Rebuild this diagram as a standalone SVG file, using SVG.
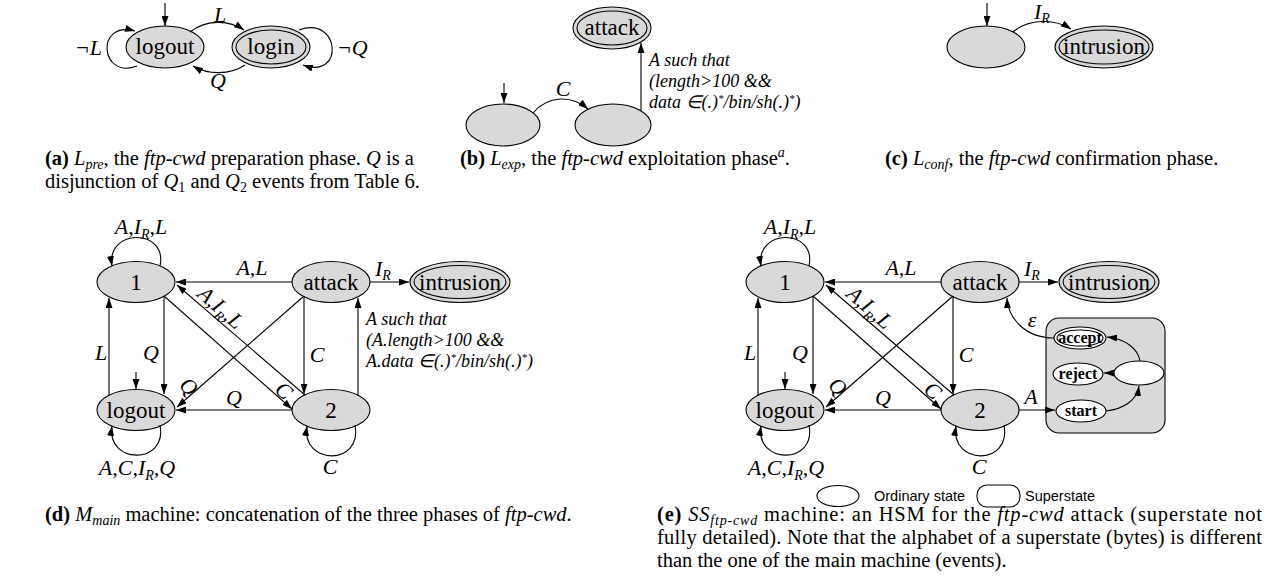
<svg xmlns="http://www.w3.org/2000/svg" width="1270" height="586" viewBox="0 0 1270 586">
<defs>
<marker id="ah" viewBox="0 0 10 7" refX="10" refY="3.5" markerWidth="10" markerHeight="7" orient="auto" markerUnits="userSpaceOnUse"><path d="M0,0 L10,3.5 L0,7 z" fill="#000"/></marker>
</defs>
<style>
.st{fill:#d9d9d9;stroke:#000;stroke-width:1.1}
.in{fill:none;stroke:#000;stroke-width:1.1}
.ws{fill:#fff;stroke:#000;stroke-width:1.1}
.e{fill:none;stroke:#000;stroke-width:1.1;marker-end:url(#ah)}
.nl{font-family:"Liberation Serif",serif;font-size:23px;text-anchor:middle;fill:#000}
.lb{font-family:"Liberation Serif",serif;font-size:22px;font-style:italic;fill:#000}
.m{text-anchor:middle}
.cd{font-family:"Liberation Serif",serif;font-size:18px;font-style:italic;fill:#000}
.cap{font-family:"Liberation Serif",serif;font-size:20.5px;fill:#000}
.b{font-weight:bold}
.i{font-style:italic}
.sub{font-size:14px}
.sup{font-size:11px}
.inner{font-family:"Liberation Serif",serif;font-size:16px;font-weight:bold;text-anchor:middle}
.leg{font-family:"Liberation Sans",sans-serif;font-size:14.5px;fill:#000}
</style>

<!-- (a) -->
<g id="a-logout"><ellipse class="st" cx="165" cy="47" rx="39" ry="21"/><text class="nl" x="165" y="54">logout</text></g>
<g id="a-login"><ellipse class="st" cx="271" cy="47" rx="39" ry="21"/><ellipse class="in" cx="271" cy="47" rx="35" ry="17"/><text class="nl" x="271" y="54">login</text></g>
<g id="a-edges">
<path class="e" d="M165,3 L165,26"/>
<path class="e" d="M190,32 C205,20 228,19 244,30"/>
<path class="e" d="M245,65 C230,75 208,75 193,66"/>
<path class="e" d="M137,66 C100,80 95,20 135,31"/>
<path class="e" d="M299,30 C340,15 345,80 303,65"/>
</g>
<g id="a-labels">
<text class="lb m" x="220" y="22">L</text>
<text class="lb m" x="218" y="88">Q</text>
<text class="lb" x="102" y="55" text-anchor="end">¬L</text>
<text class="lb" x="337" y="55">¬Q</text>
</g>

<!-- (b) -->
<g id="b-attack"><ellipse class="st" cx="612" cy="28" rx="39" ry="21"/><ellipse class="in" cx="612" cy="28" rx="35" ry="17"/><text class="nl" x="612" y="35">attack</text></g>
<g id="b-s0"><ellipse class="st" cx="503" cy="125" rx="37" ry="21"/></g>
<g id="b-s1"><ellipse class="st" cx="613" cy="125" rx="38" ry="21"/></g>
<g id="b-edges">
<path class="e" d="M504,83 L504,103"/>
<path class="e" d="M533,113 C548,95 572,95 588,109"/>
<path class="e" d="M641,111 L641,43"/>
</g>
<g id="b-labels">
<text class="lb m" x="563" y="96">C</text>
<text class="cd" x="649" y="66">A such that</text>
<text class="cd" x="649" y="87">(length&gt;100 &amp;&amp;</text>
<text class="cd" x="649" y="108">data ∈(.)<tspan class="sup" dy="-6">*</tspan><tspan dy="6">/bin/sh(.)</tspan><tspan class="sup" dy="-6">*</tspan><tspan dy="6">)</tspan></text>
</g>

<!-- (c) -->
<g id="c-s0"><ellipse class="st" cx="986" cy="47" rx="39" ry="21"/></g>
<g id="c-intrusion"><ellipse class="st" cx="1104" cy="47" rx="49" ry="21"/><ellipse class="in" cx="1104" cy="47" rx="45" ry="17"/><text class="nl" x="1104" y="54">intrusion</text></g>
<g id="c-edges">
<path class="e" d="M987,3 L987,26"/>
<path class="e" d="M1013,32 C1028,19 1054,18 1071,29"/>
</g>
<g id="c-labels">
<text class="lb" x="1034" y="19">I<tspan class="sub" dy="4">R</tspan></text>
</g>

<!-- captions top -->
<text class="cap" x="45" y="165"><tspan class="b">(a)</tspan> <tspan class="i">L</tspan><tspan class="i sub" dy="4">pre</tspan><tspan dy="-4">, the </tspan><tspan class="i">ftp-cwd</tspan> preparation phase.  <tspan class="i">Q</tspan> is a</text>
<text class="cap" x="45" y="188">disjunction of <tspan class="i">Q</tspan><tspan class="sub" dy="4">1</tspan><tspan dy="-4"> and </tspan><tspan class="i">Q</tspan><tspan class="sub" dy="4">2</tspan><tspan dy="-4"> events from Table 6.</tspan></text>
<text class="cap" x="460" y="165"><tspan class="b">(b)</tspan> <tspan class="i">L</tspan><tspan class="i sub" dy="4">exp</tspan><tspan dy="-4">, the </tspan><tspan class="i">ftp-cwd</tspan> exploitation phase<tspan class="i sub" dy="-8">a</tspan><tspan dy="8">.</tspan></text>
<text class="cap" x="885" y="165"><tspan class="b">(c)</tspan> <tspan class="i">L</tspan><tspan class="i sub" dy="4">conf</tspan><tspan dy="-4">, the </tspan><tspan class="i">ftp-cwd</tspan> confirmation phase.</text>

<!-- (d) -->
<g id="d-n1"><ellipse class="st" cx="136" cy="282" rx="39" ry="20.5"/><text class="nl" x="136" y="290">1</text></g>
<g id="d-logout"><ellipse class="st" cx="136" cy="410" rx="39" ry="20.5"/><text class="nl" x="136" y="418">logout</text></g>
<g id="d-attack"><ellipse class="st" cx="331" cy="282" rx="39" ry="20.5"/><text class="nl" x="331" y="290">attack</text></g>
<g id="d-n2"><ellipse class="st" cx="331" cy="410" rx="39" ry="20.5"/><text class="nl" x="331" y="418">2</text></g>
<g id="d-intrusion"><ellipse class="st" cx="460" cy="282" rx="50" ry="20.5"/><ellipse class="in" cx="460" cy="282" rx="46" ry="16.5"/><text class="nl" x="460" y="290">intrusion</text></g>
<g id="d-edges">
<path class="e" d="M160,266 C168,228 106,228 112,266"/>
<path class="e" d="M160,425 C168,465 106,465 112,426"/>
<path class="e" d="M136,372 L136,389"/>
<path class="e" d="M164,296 L164,394"/>
<path class="e" d="M109,395 L109,298"/>
<path class="e" d="M292,282 L176,282"/>
<path class="e" d="M305,395 L177,285"/>
<path class="e" d="M164,296 L292,409"/>
<path class="e" d="M304,296 L177,407"/>
<path class="e" d="M304,296 L304,394"/>
<path class="e" d="M358,395 L358,298"/>
<path class="e" d="M292,410 L176,410"/>
<path class="e" d="M355,425 C363,466 301,466 307,426"/>
<path class="e" d="M370,282 L409,282"/>
</g>
<g id="d-labels">
<text class="lb m" x="141" y="234">A,I<tspan class="sub" dy="5">R</tspan><tspan dy="-5">,L</tspan></text>
<text class="lb m" x="137" y="475">A,C,I<tspan class="sub" dy="5">R</tspan><tspan dy="-5">,Q</tspan></text>
<text class="lb m" x="101" y="360">L</text>
<text class="lb m" x="151" y="360">Q</text>
<text class="lb m" x="252" y="275">A,L</text>
<text class="lb m" x="216" y="313" transform="rotate(41 216 313)">A,I<tspan class="sub" dy="5">R</tspan><tspan dy="-5">,L</tspan></text>
<text class="lb m" x="279" y="396" transform="rotate(41 279 396)">C</text>
<text class="lb m" x="184" y="392" transform="rotate(40 184 392)">Q</text>
<text class="lb m" x="234" y="405">Q</text>
<text class="lb m" x="317" y="362">C</text>
<text class="lb m" x="330" y="474">C</text>
<text class="lb" x="375" y="276">I<tspan class="sub" dy="4">R</tspan></text>
<text class="cd" x="366" y="325">A such that</text>
<text class="cd" x="366" y="346">(A.length&gt;100 &amp;&amp;</text>
<text class="cd" x="366" y="367">A.data ∈(.)<tspan class="sup" dy="-6">*</tspan><tspan dy="6">/bin/sh(.)</tspan><tspan class="sup" dy="-6">*</tspan><tspan dy="6">)</tspan></text>
</g>

<!-- (e) -->
<g id="e-n1"><ellipse class="st" cx="785" cy="282" rx="39" ry="20.5"/><text class="nl" x="785" y="290">1</text></g>
<g id="e-logout"><ellipse class="st" cx="785" cy="410" rx="39" ry="20.5"/><text class="nl" x="785" y="418">logout</text></g>
<g id="e-attack"><ellipse class="st" cx="980" cy="282" rx="39" ry="20.5"/><text class="nl" x="980" y="290">attack</text></g>
<g id="e-n2"><ellipse class="st" cx="980" cy="410" rx="39" ry="20.5"/><text class="nl" x="980" y="418">2</text></g>
<g id="e-intrusion"><ellipse class="st" cx="1109" cy="282" rx="50" ry="20.5"/><ellipse class="in" cx="1109" cy="282" rx="46" ry="16.5"/><text class="nl" x="1109" y="290">intrusion</text></g>
<g id="e-superstate">
<rect class="st" x="1046" y="318" width="119" height="115" rx="13"/>
<g id="e-accept"><ellipse class="ws" cx="1080" cy="338" rx="26" ry="11"/><ellipse class="in" cx="1080" cy="338" rx="23" ry="8"/><text class="inner" x="1080" y="343">accept</text></g>
<g id="e-reject"><ellipse class="ws" cx="1078" cy="374" rx="25" ry="11"/><text class="inner" x="1078" y="379">reject</text></g>
<g id="e-start"><ellipse class="ws" cx="1081" cy="411" rx="25" ry="11"/><text class="inner" x="1081" y="416">start</text></g>
<g id="e-mid"><ellipse class="ws" cx="1139" cy="373" rx="25" ry="12"/></g>
</g>
<g id="e-edges">
<path class="e" d="M809,266 C817,228 755,228 761,266"/>
<path class="e" d="M809,425 C817,465 755,465 761,426"/>
<path class="e" d="M785,372 L785,389"/>
<path class="e" d="M813,296 L813,394"/>
<path class="e" d="M758,395 L758,298"/>
<path class="e" d="M941,282 L825,282"/>
<path class="e" d="M954,395 L826,285"/>
<path class="e" d="M813,296 L941,409"/>
<path class="e" d="M953,296 L826,407"/>
<path class="e" d="M953,296 L953,394"/>
<path class="e" d="M941,410 L825,410"/>
<path class="e" d="M1004,425 C1012,466 950,466 956,426"/>
<path class="e" d="M1019,282 L1058,282"/>
<path class="e" d="M1019,410 L1055,410"/>
<path class="e" d="M1054,338 C1025,338 1008,318 1007,298"/>
<path class="e" d="M1106,411 C1124,409 1137,400 1139,386"/>
<path class="e" d="M1114,373 L1104,373"/>
<path class="e" d="M1140,361 C1138,349 1126,339 1107,337"/>
</g>
<g id="e-labels">
<text class="lb m" x="790" y="234">A,I<tspan class="sub" dy="5">R</tspan><tspan dy="-5">,L</tspan></text>
<text class="lb m" x="786" y="475">A,C,I<tspan class="sub" dy="5">R</tspan><tspan dy="-5">,Q</tspan></text>
<text class="lb m" x="750" y="360">L</text>
<text class="lb m" x="800" y="360">Q</text>
<text class="lb m" x="901" y="275">A,L</text>
<text class="lb m" x="865" y="313" transform="rotate(41 865 313)">A,I<tspan class="sub" dy="5">R</tspan><tspan dy="-5">,L</tspan></text>
<text class="lb m" x="928" y="396" transform="rotate(41 928 396)">C</text>
<text class="lb m" x="833" y="392" transform="rotate(40 833 392)">Q</text>
<text class="lb m" x="883" y="405">Q</text>
<text class="lb m" x="966" y="362">C</text>
<text class="lb m" x="979" y="474">C</text>
<text class="lb" x="1024" y="276">I<tspan class="sub" dy="4">R</tspan></text>
<text class="lb m" x="1031" y="404">A</text>
<text class="lb m" x="1032" y="327" font-style="normal">ε</text>
</g>

<!-- legend -->
<g id="legend">
<ellipse class="ws" cx="838" cy="496" rx="21" ry="10.5"/>
<text class="leg" x="874" y="501">Ordinary state</text>
<rect class="ws" x="977" y="485" width="43" height="22" rx="10"/>
<text class="leg" x="1025" y="501">Superstate</text>
</g>

<!-- captions bottom -->
<text class="cap" x="45" y="521"><tspan class="b">(d)</tspan> <tspan class="i">M</tspan><tspan class="i sub" dy="4">main</tspan><tspan dy="-4"> machine: concatenation of the three phases of </tspan><tspan class="i">ftp-cwd</tspan>.</text>
<text class="cap" x="657" y="521" textLength="605" lengthAdjust="spacing"><tspan class="b">(e)</tspan> <tspan class="i">SS</tspan><tspan class="i sub" dy="4">ftp-cwd</tspan><tspan dy="-4"> machine:  an HSM for the </tspan><tspan class="i">ftp-cwd</tspan> attack (superstate not</text>
<text class="cap" x="657" y="544" textLength="605" lengthAdjust="spacing">fully detailed). Note that the alphabet of a superstate (bytes) is different</text>
<text class="cap" x="657" y="567">than the one of the main machine (events).</text>
</svg>
